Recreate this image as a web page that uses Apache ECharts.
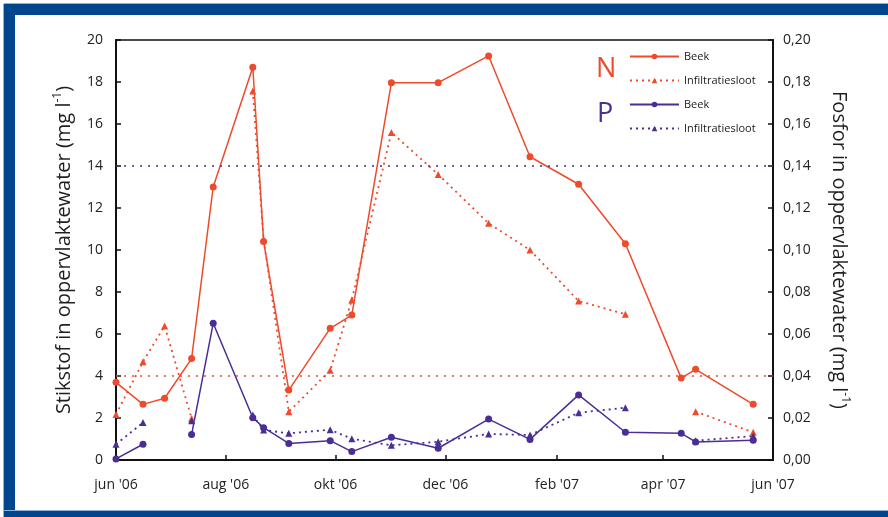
<!DOCTYPE html>
<html>
<head>
<meta charset="utf-8">
<script src="https://cdn.jsdelivr.net/npm/echarts@6/dist/echarts.min.js"></script>
<style>
  html, body { margin: 0; padding: 0; background: #fff; }
  #wrap { position: relative; width: 888px; height: 517px; overflow: hidden; background: #fff; }
  #chart { position: absolute; left: 0; top: 0; width: 888px; height: 517px; }
  .band { position: absolute; background: #00468f; pointer-events: none; }
  #bandTop { left: 4px; top: 4px; width: 884px; height: 11px; box-shadow: 0 -1px 0 #8db0d6; }
  #bandLeft { left: 4px; top: 4px; width: 11px; height: 513px; box-shadow: -1px 0 0 #8db0d6; }
  #bandBottom { left: 4px; top: 511px; width: 884px; height: 6px; box-shadow: 0 -1px 0 #8db0d6; }
</style>
</head>
<body>
<div id="wrap">
<div id="chart"></div>
<div class="band" id="bandTop"></div>
<div class="band" id="bandLeft"></div>
<div class="band" id="bandBottom"></div>
</div>
<script>
// sampling dates
const dates = ['2006-06-01','2006-06-16','2006-06-28','2006-07-13','2006-07-25','2006-08-16',
  '2006-08-22','2006-09-05','2006-09-28','2006-10-10','2006-11-01','2006-11-27','2006-12-25',
  '2007-01-17','2007-02-13','2007-03-11','2007-04-11','2007-04-19','2007-05-21'];
// Stikstof (mg/l)
const nBeek = [3.7, 2.65, 2.94, 4.83, 13.0, 18.7, 10.4, 3.33, 6.27, 6.9, 17.97, 17.97, 19.24,
  14.44, 13.13, 10.3, 3.9, 4.32, 2.65];
const nInfiltratiesloot = [2.17, 4.68, 6.38, 1.98, null, 17.57, 10.5, 2.3, 4.27, 7.62, 15.6, 13.6,
  11.27, 10.0, 7.57, 6.94, null, 2.3, 1.32];
// Fosfor (mg/l)
const pBeek = [0.0005, 0.0075, null, 0.0121, 0.0651, 0.0201, 0.0154, 0.0079, 0.0092, 0.0040,
  0.0108, 0.0056, 0.0195, 0.0098, 0.0310, 0.0132, 0.0127, 0.0086, 0.0094];
const pInfiltratiesloot = [0.0075, 0.0178, null, 0.0187, null, 0.0214, 0.0143, 0.0127, 0.0144,
  0.0101, 0.0070, 0.0087, 0.0124, 0.0119, 0.0225, 0.0249, null, 0.0092, 0.0114];
// norms
const nNorm = 4;
const pNorm = 0.14;
// x tick labels
const xTickDates = ['2006-06-01','2006-08-01','2006-10-01','2006-12-01','2007-02-01','2007-04-01','2007-06-01'];
const xTickLabels = ["jun '06", "aug '06", "okt '06", "dec '06", "feb '07", "apr '07", "jun '07"];

const ts = d => { const p = d.split('-').map(Number); return Date.UTC(p[0], p[1] - 1, p[2]); };
const xTickTs = xTickDates.map(ts);
const pair = arr => dates.map((d, i) => [ts(d), arr[i]]);

const RED = '#ee4a2c';
const PURPLE = '#4a2e95';
const FONT = 'Open Sans';
const nameStyle = {
  fontSize: 20, color: '#1f1f1f', fontFamily: FONT, lineHeight: 24,
  rich: { sup: { fontSize: 12, lineHeight: 24, verticalAlign: 'top', fontFamily: FONT, color: '#1f1f1f', padding: [0, 0, 9, 0] } }
};

const chart = echarts.init(document.getElementById('chart'), null, { renderer: 'canvas' });
chart.setOption({
  animation: false,
  textStyle: { fontFamily: FONT },
  grid: { left: 116, right: 115, top: 40, bottom: 57, show: true, borderColor: '#111', borderWidth: 1.5, backgroundColor: 'transparent' },
  legend: {
    orient: 'vertical', left: 624, top: 46,
    itemWidth: 49, itemHeight: 7, itemGap: 13,
    textStyle: { fontSize: 11, color: '#222', fontFamily: FONT },
    formatter: n => n.replace(/^[NP] /, ''),
    data: ['N Beek', 'N Infiltratiesloot', 'P Beek', 'P Infiltratiesloot']
  },
  graphic: [
    { type: 'text', left: 596, top: 56, style: { text: 'N', fill: RED, font: '27px "Open Sans"' } },
    { type: 'text', left: 597, top: 101, style: { text: 'P', fill: PURPLE, font: '27px "Open Sans"' } }
  ],
  xAxis: {
    type: 'value', min: xTickTs[0], max: xTickTs[xTickTs.length - 1],
    axisLine: { lineStyle: { color: '#111', width: 2 } },
    axisTick: { inside: true, length: 5, customValues: xTickTs, lineStyle: { color: '#111', width: 1.5 } },
    axisLabel: {
      customValues: xTickTs, margin: 18, fontSize: 14, color: '#222', fontFamily: FONT,
      formatter: v => {
        let best = 0;
        xTickTs.forEach((t, i) => { if (Math.abs(t - v) < Math.abs(xTickTs[best] - v)) best = i; });
        return xTickLabels[best];
      }
    },
    splitLine: { show: false }
  },
  yAxis: [
    {
      type: 'value', min: 0, max: 20, interval: 2, position: 'left',
      name: 'Stikstof in oppervlaktewater (mg l{sup|-1})',
      nameLocation: 'middle', nameGap: 40, nameRotate: 90, nameTextStyle: nameStyle,
      axisLine: { show: true, lineStyle: { color: '#111', width: 2 } },
      axisTick: { show: true, inside: true, length: 5, lineStyle: { color: '#111', width: 1.5 } },
      axisLabel: { margin: 13, fontSize: 14, color: '#222', fontFamily: FONT },
      splitLine: { show: false }
    },
    {
      type: 'value', min: 0, max: 0.2, interval: 0.02, position: 'right',
      name: 'Fosfor in oppervlaktewater (mg l{sup|-1})',
      nameLocation: 'middle', nameGap: 54, nameRotate: -90, nameTextStyle: nameStyle,
      axisLine: { show: true, lineStyle: { color: '#111', width: 2 } },
      axisTick: { show: true, inside: true, length: 5, lineStyle: { color: '#111', width: 1.5 } },
      axisLabel: { margin: 10, fontSize: 14, color: '#222', fontFamily: FONT,
        formatter: v => v.toFixed(2).replace('.', ',') },
      splitLine: { show: false }
    }
  ],
  series: [
    {
      name: 'N Beek', type: 'line', yAxisIndex: 0, data: pair(nBeek),
      symbol: 'circle', symbolSize: 7, connectNulls: false,
      lineStyle: { color: RED, width: 1.5 }, itemStyle: { color: RED },
      markLine: { silent: true, symbol: 'none', label: { show: false },
        lineStyle: { color: RED, type: [2, 6], width: 1.5 }, data: [{ yAxis: nNorm }] }
    },
    {
      name: 'N Infiltratiesloot', type: 'line', yAxisIndex: 0, data: pair(nInfiltratiesloot),
      symbol: 'triangle', symbolSize: 7, connectNulls: false,
      lineStyle: { color: RED, width: 1.8, type: [2, 4] }, itemStyle: { color: RED }
    },
    {
      name: 'P Beek', type: 'line', yAxisIndex: 1, data: pair(pBeek),
      symbol: 'circle', symbolSize: 7, connectNulls: false,
      lineStyle: { color: PURPLE, width: 1.5 }, itemStyle: { color: PURPLE },
      markLine: { silent: true, symbol: 'none', label: { show: false },
        lineStyle: { color: PURPLE, type: [2, 6], width: 1.5 }, data: [{ yAxis: pNorm }] }
    },
    {
      name: 'P Infiltratiesloot', type: 'line', yAxisIndex: 1, data: pair(pInfiltratiesloot),
      symbol: 'triangle', symbolSize: 7, connectNulls: false,
      lineStyle: { color: PURPLE, width: 1.8, type: [2, 4] }, itemStyle: { color: PURPLE }
    }
  ]
});
</script>
</body>
</html>
